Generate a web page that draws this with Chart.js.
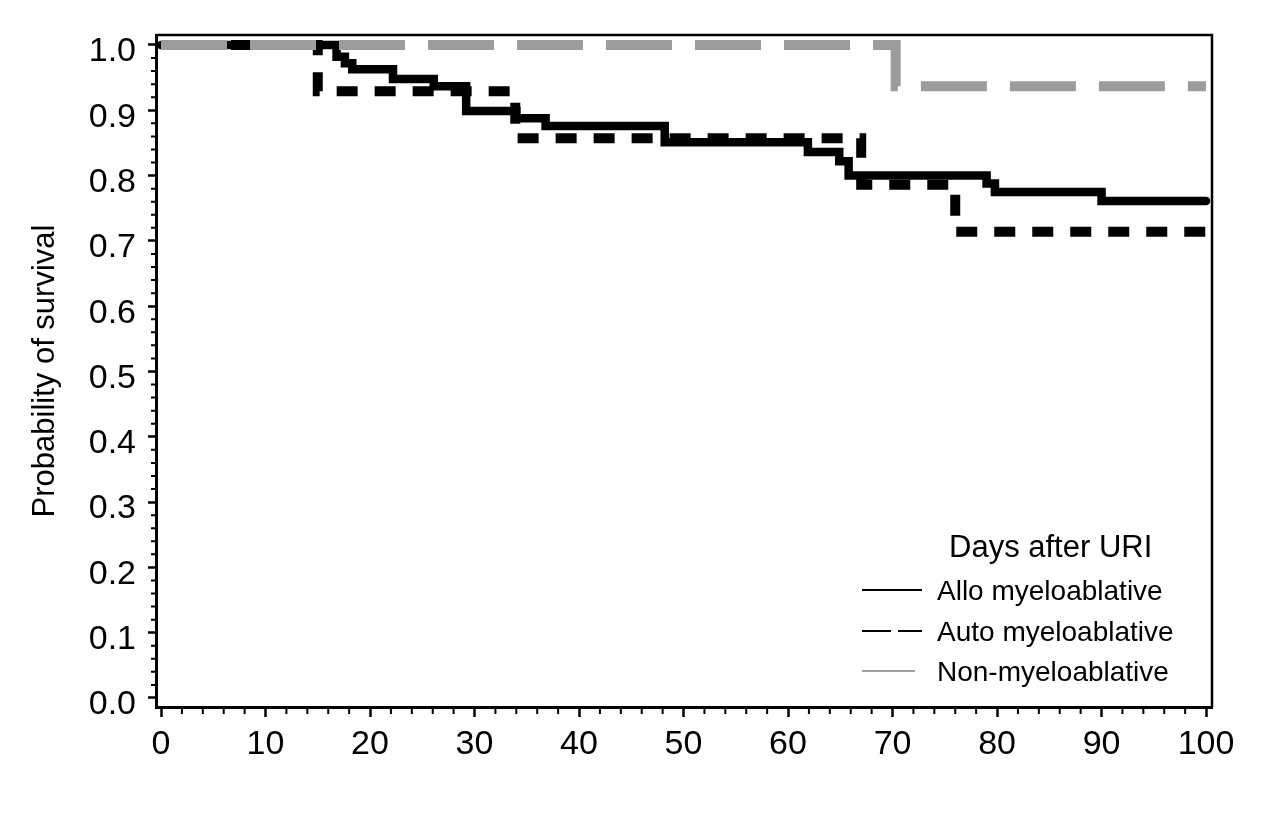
<!DOCTYPE html>
<html>
<head>
<meta charset="utf-8">
<script src="https://cdn.jsdelivr.net/npm/chart.js@4.4.1/dist/chart.umd.min.js"></script>
<style>
html,body{margin:0;padding:0;background:#fff;}
#wrap{width:1280px;height:818px;position:relative;}
canvas{display:block;}
</style>
</head>
<body>
<div id="wrap"><canvas id="c" width="1280" height="818"></canvas></div>
<script>
// ---- data ----
const alloDays = [0, 16.8, 17.6, 18.3, 22.2, 26.1, 29.2, 34.0, 36.8, 48.2, 61.9, 64.9, 65.8, 79.0, 79.8, 90.0, 100];
const alloSurv = [1.0, 0.982, 0.972, 0.963, 0.948, 0.937, 0.899, 0.888, 0.876, 0.851, 0.836, 0.822, 0.800, 0.788, 0.775, 0.761, 0.761];
const autoDays = [0, 15.0, 33.9, 67.0, 76.0, 100];
const autoSurv = [1.0, 0.929, 0.857, 0.786, 0.714, 0.714];
const nonDays = [0, 70.3, 100];
const nonSurv = [1.0, 0.937, 0.937];
const seriesLabels = ['Allo myeloablative', 'Auto myeloablative', 'Non-myeloablative'];
const legendTitle = 'Days after URI';
const yAxisTitle = 'Probability of survival';
const xTickLabels = ['0','10','20','30','40','50','60','70','80','90','100'];
const yTickLabels = ['0.0','0.1','0.2','0.3','0.4','0.5','0.6','0.7','0.8','0.9','1.0'];

// ---- font selection ----
function hasFont(name) {
  const c = document.createElement('canvas').getContext('2d');
  const s = 'Allo myeloablative 0.123 WWmm';
  c.font = '40px monospace';
  const w1 = c.measureText(s).width;
  c.font = '40px "' + name + '", monospace';
  const w2 = c.measureText(s).width;
  return Math.abs(w1 - w2) > 0.5;
}
const NARROW = hasFont('Liberation Sans Narrow');
const FONT = NARROW ? '"Liberation Sans Narrow", "Liberation Sans", Arial, sans-serif'
                    : '"Liberation Sans", Arial, sans-serif';
const CFG = NARROW ? {
  tick: 36, tickSpacing: '2px', axisTitle: 32,
  legTitle: 33, legTitleSpacing: '2.2px', legItem: 31, legItemSpacing: '1.2px'
} : {
  tick: 34, tickSpacing: '0px', axisTitle: 31,
  legTitle: 31, legTitleSpacing: '0px', legItem: 28, legItemSpacing: '0px'
};
Chart.defaults.font.family = FONT;
Chart.defaults.color = '#000';

function pts(xs, ys) { return xs.map((x, i) => ({x: x, y: ys[i]})); }
function isMajorX(v) { return Math.abs(v / 10 - Math.round(v / 10)) < 1e-6; }
function isMajorY(v) { return Math.abs(v * 10 - Math.round(v * 10)) < 1e-6; }

const spacingPlugin = {
  id: 'spacing',
  beforeUpdate(chart) { if ('letterSpacing' in chart.ctx) chart.ctx.letterSpacing = CFG.tickSpacing; },
  beforeDraw(chart) { if ('letterSpacing' in chart.ctx) chart.ctx.letterSpacing = CFG.tickSpacing; }
};

const frameAndLegend = {
  id: 'frameAndLegend',
  afterDraw(chart) {
    const ctx = chart.ctx;
    const a = chart.chartArea;
    const xs = chart.scales.x, ys = chart.scales.y;
    ctx.save();
    // top and right frame lines
    ctx.strokeStyle = '#000';
    ctx.lineWidth = 2.5;
    ctx.beginPath();
    ctx.moveTo(a.left, a.top); ctx.lineTo(a.right, a.top); ctx.lineTo(a.right, a.bottom);
    ctx.stroke();
    // minor ticks (shorter)
    ctx.lineWidth = 2;
    ctx.beginPath();
    xs.ticks.forEach(t => {
      if (!isMajorX(t.value)) {
        const px = xs.getPixelForValue(t.value);
        ctx.moveTo(px, a.bottom); ctx.lineTo(px, a.bottom + 7);
      }
    });
    ys.ticks.forEach(t => {
      if (!isMajorY(t.value)) {
        const py = ys.getPixelForValue(t.value);
        ctx.moveTo(a.left - 5, py); ctx.lineTo(a.left, py);
      }
    });
    ctx.stroke();
    // legend
    const ds = chart.data.datasets;
    ctx.fillStyle = '#000';
    ctx.textBaseline = 'middle';
    ctx.textAlign = 'left';
    if ('letterSpacing' in ctx) ctx.letterSpacing = CFG.legTitleSpacing;
    ctx.font = CFG.legTitle + 'px ' + FONT;
    ctx.fillText(legendTitle, 949, 548);
    const rows = [590, 631, 671];
    const order = [1, 2, 0]; // dataset indices: Allo, Auto, Non
    const styles = [
      {color: '#000', dash: [], x2: 922},
      {color: '#000', dash: [29, 7], x2: 922},
      {color: '#a0a0a0', dash: [], x2: 915}
    ];
    if ('letterSpacing' in ctx) ctx.letterSpacing = CFG.legItemSpacing;
    ctx.font = CFG.legItem + 'px ' + FONT;
    order.forEach((di, k) => {
      const st = styles[k];
      ctx.strokeStyle = st.color;
      ctx.lineWidth = 2;
      ctx.setLineDash(st.dash);
      ctx.beginPath();
      ctx.moveTo(862, rows[k]); ctx.lineTo(st.x2, rows[k]);
      ctx.stroke();
      ctx.setLineDash([]);
      ctx.fillText(ds[di].label, 937, rows[k] + 2);
    });
    ctx.restore();
  }
};

new Chart(document.getElementById('c'), {
  type: 'line',
  data: {
    datasets: [
      {
        label: seriesLabels[2],
        data: pts(nonDays, nonSurv),
        borderColor: '#9c9c9c',
        borderWidth: 10,
        borderDash: [66, 23],
        borderCapStyle: 'butt',
        stepped: true,
        pointRadius: 0,
        fill: false,
        order: 0
      },
      {
        label: seriesLabels[0],
        data: pts(alloDays, alloSurv),
        borderColor: '#000',
        borderWidth: 8.5,
        borderCapStyle: 'round',
        borderJoinStyle: 'miter',
        stepped: true,
        pointRadius: 0,
        fill: false,
        order: 1
      },
      {
        label: seriesLabels[1],
        data: pts(autoDays, autoSurv),
        borderColor: '#000',
        borderWidth: 10,
        borderDash: [21, 17],
        borderDashOffset: 6,
        borderCapStyle: 'butt',
        stepped: true,
        pointRadius: 0,
        fill: false,
        order: 2
      }
    ]
  },
  options: {
    responsive: false,
    animation: false,
    devicePixelRatio: 1,
    layout: {padding: {top: 35, right: 68, left: 0, bottom: 0}},
    plugins: {legend: {display: false}, tooltip: {enabled: false}, title: {display: false}},
    scales: {
      x: {
        type: 'linear',
        min: -0.48,
        max: 100.57,
        afterFit: s => { s.height = 111; },
        border: {display: true, color: '#000', width: 3},
        grid: {
          drawOnChartArea: false,
          drawTicks: true,
          tickLength: 10,
          tickWidth: 2.5,
          tickColor: c => (c.tick && isMajorX(c.tick.value)) ? '#000' : 'rgba(0,0,0,0)'
        },
        ticks: {
          stepSize: 2,
          includeBounds: false,
          autoSkip: false,
          maxRotation: 0,
          padding: 7,
          color: '#000',
          font: {size: CFG.tick},
          callback: v => isMajorX(v) ? xTickLabels[Math.round(v / 10)] : ''
        }
      },
      y: {
        type: 'linear',
        min: -0.0138,
        max: 1.0153,
        afterFit: s => { s.width = 156; },
        border: {display: true, color: '#000', width: 3},
        grid: {
          drawOnChartArea: false,
          drawTicks: true,
          tickLength: 8,
          tickWidth: 2.5,
          tickColor: c => (c.tick && isMajorY(c.tick.value)) ? '#000' : 'rgba(0,0,0,0)'
        },
        ticks: {
          stepSize: 0.02,
          includeBounds: false,
          autoSkip: false,
          padding: 12,
          labelOffset: 7,
          color: '#000',
          font: {size: CFG.tick},
          callback: v => isMajorY(v) ? yTickLabels[Math.round(v * 10)] : ''
        },
        title: {
          display: true,
          text: yAxisTitle,
          color: '#000',
          font: {size: CFG.axisTitle},
          padding: {top: 27, bottom: 0}
        }
      }
    }
  },
  plugins: [spacingPlugin, frameAndLegend]
});
</script>
</body>
</html>
